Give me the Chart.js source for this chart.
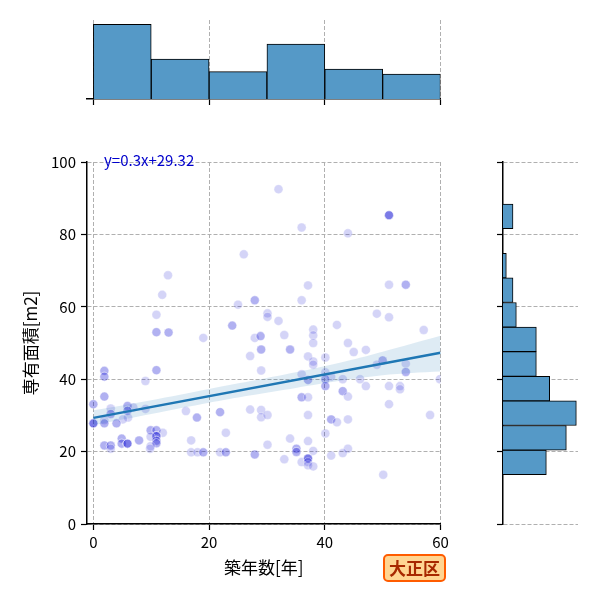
<!DOCTYPE html>
<html lang="ja">
<head>
  <meta charset="UTF-8">
  <title>大正区 築年数と専有面積</title>
  <script src="https://cdn.jsdelivr.net/npm/chart.js"></script>
  <style>
    body { margin: 0; background: #fff; }
    #wrap { position: relative; width: 600px; height: 600px; }
    canvas { position: absolute; left: 0; top: 0; }
    #eq { position: absolute; left: 104px; top: 151px; font: 15px 'Noto Sans CJK JP', sans-serif; line-height: 18px; color: #0000cc; }
    #ward { position: absolute; left: 383px; top: 554px; width: 59px; height: 24px; border: 2px solid #ff5c00; border-radius: 5px;
            background: #ffd592; color: #a82800; font: bold 17px 'Noto Sans CJK JP', sans-serif; line-height: 24px; text-align: center; }
  </style>
</head>
<body>
<div id="wrap">
  <canvas id="main" width="600" height="600"></canvas>
  <canvas id="top" width="600" height="600"></canvas>
  <canvas id="right" width="600" height="600"></canvas>
  <div id="eq">y=0.3x+29.32</div>
  <div id="ward">大正区</div>
</div>
<script>
// 散布図の点 (築年数, 専有面積, 重なり数)
const ptX = [26.0,12.9,11.9,10.9,10.9,13.0,19.0,25.0,27.9,24.0,27.9,28.9,32.0,36.0,51.1,44.0,37.1,51.1,54.0,36.0,
  30.1,30.1,32.0,33.0,38.0,38.0,38.0,42.1,49.0,51.1,57.1,44.0,29.0,34.0,45.0,47.1,27.1,37.1,38.0,38.0,
  40.1,29.0,36.0,37.1,40.1,41.1,40.1,43.1,46.1,50.0,49.0,54.0,54.0,59.9,40.1,47.1,51.1,53.0,53.0,43.1,
  44.0,36.0,37.1,51.1,29.0,29.0,30.1,37.1,41.1,42.1,44.0,58.2,40.1,34.0,37.1,30.1,44.0,35.1,35.1,38.0,
  27.9,43.1,41.1,33.0,36.0,37.1,37.1,37.1,38.0,50.1,1.9,1.9,10.9,9.0,1.9,0.0,3.0,5.9,6.9,5.9,
  9.0,3.0,6.0,5.1,1.9,1.9,0.0,4.0,16.0,17.9,21.9,27.1,9.9,10.9,12.0,10.9,10.9,10.9,9.9,9.9,
  4.9,4.9,5.9,7.9,1.9,3.0,3.0,9.8,16.9,16.9,18.0,19.0,21.9,22.9,22.9];
const ptY = [74.5,68.7,63.3,57.8,53.0,52.9,51.4,60.6,61.8,54.8,51.4,51.9,92.5,81.9,85.3,80.3,65.9,66.1,66.1,61.8,
  58.2,57.2,56.1,52.2,53.7,52.1,50.0,55.0,58.1,57.1,53.6,50.0,48.2,48.2,47.5,48.1,46.4,46.3,44.9,44.0,
  46.0,42.4,41.4,39.8,41.9,40.7,40.0,40.0,40.0,45.2,44.0,44.3,42.0,40.0,38.1,38.1,38.1,38.1,37.2,36.7,
  35.2,35.0,35.0,33.1,31.5,29.5,30.1,30.1,28.9,28.1,28.9,30.1,25.0,23.6,22.9,21.9,20.8,20.8,19.9,20.2,
  19.2,19.6,18.9,17.9,17.1,18.1,17.1,16.2,15.9,13.6,42.3,40.7,42.5,39.5,35.2,33.1,31.9,32.6,32.2,31.3,
  31.8,30.4,29.4,28.9,28.7,27.8,27.8,27.8,31.2,29.4,30.9,31.6,25.9,25.9,25.2,24.3,23.0,22.3,24.1,21.5,
  23.6,22.2,22.2,23.1,21.7,21.7,20.8,20.8,23.1,19.8,19.8,19.8,19.8,19.8,25.2];
const ptN = [1,1,1,1,2,2,1,1,2,2,1,2,1,1,4,1,1,1,2,1,
  1,1,1,1,1,1,1,1,1,1,1,1,2,2,1,1,1,1,1,1,
  1,1,1,2,1,1,2,1,1,2,1,1,2,1,2,1,1,1,1,2,
  1,2,1,1,1,1,1,1,2,1,1,1,1,1,1,1,1,2,2,1,
  2,1,1,1,1,4,1,1,1,1,2,2,2,1,2,2,1,2,1,2,
  1,2,1,1,1,2,4,2,1,2,2,1,2,2,1,4,2,2,1,1,
  2,2,4,2,2,2,1,1,1,1,1,2,1,2,1];

// 回帰直線と信頼区間
const regX = [0, 60];
const regY = [29.32, 47.32];
const bandX  = [0, 10, 20, 27, 35, 44, 50, 55, 60];
const bandHi = [31.4, 34.2, 37.3, 39.4, 41.9, 45.1, 47.6, 49.8, 52.0];
const bandLo = [27.3, 30.4, 33.5, 35.5, 37.6, 39.9, 41.1, 41.7, 42.1];

// 目盛り
const xTicks = [0, 20, 40, 60];
const yTicks = [0, 20, 40, 60, 80, 100];

// 周辺ヒストグラム
const topEdges = [0, 10, 20, 30, 40, 50, 60];
const topCounts = [30, 16, 11, 22, 12, 10];
const rightEdges = [13.6, 20.4, 27.2, 34.0, 40.8, 47.6, 54.4, 61.2, 68.0, 74.8, 81.6, 88.4, 95.2];
const rightCounts = [13, 19, 22, 14, 10, 10, 4, 3, 1, 0, 3, 0];

Chart.defaults.font.family = "'Noto Sans CJK JP', 'DejaVu Sans', sans-serif";
Chart.defaults.color = '#000';
Chart.defaults.animation = false;
Chart.defaults.events = [];
Chart.defaults.plugins.legend.display = false;
Chart.defaults.plugins.tooltip.enabled = false;

const gridCol = '#b0b0b0';
const dash = [4, 2];
const barCol = '#5599c7';

const pts = [];
ptX.forEach((x, i) => { for (let k = 0; k < ptN[i]; k++) pts.push({ x: x, y: ptY[i] }); });

function setTicks(list) {
  return s => { s.ticks = list.map(v => ({ value: v })); };
}
const gridOpts = { offset: false, color: gridCol, tickColor: '#000', tickLength: 6, tickWidth: 1.2, tickBorderDash: [] };
const noLabels = { display: true, callback: () => '', padding: 0 };

new Chart(document.getElementById('main'), {
  type: 'scatter',
  data: {
    datasets: [
      { type: 'line', data: regX.map((x, i) => ({ x: x, y: regY[i] })), borderColor: '#1f77b4', borderWidth: 2.5, pointRadius: 0 },
      { type: 'line', data: bandX.map((x, i) => ({ x: x, y: bandHi[i] })), borderWidth: 0, pointRadius: 0,
        fill: '+1', backgroundColor: 'rgba(31,119,180,0.15)', tension: 0.3 },
      { type: 'line', data: bandX.map((x, i) => ({ x: x, y: bandLo[i] })), borderWidth: 0, pointRadius: 0, tension: 0.3 },
      { data: pts, pointRadius: 4.5, borderWidth: 1, borderColor: 'rgba(255,255,255,0.35)', backgroundColor: 'rgba(0,0,205,0.17)' }
    ]
  },
  options: {
    responsive: false,
    layout: { padding: { left: 0, top: 162, right: 159.5, bottom: 0 } },
    scales: {
      x: {
        type: 'linear', min: -1.1, max: 60,
        afterBuildTicks: setTicks(xTicks),
        afterFit: s => { s.height = 76; },
        ticks: { font: { size: 15 }, padding: 3 },
        grid: gridOpts,
        border: { color: '#000', width: 1.5, dash: dash },
        title: { display: true, text: '築年数[年]', font: { size: 17 }, padding: { top: 0, bottom: 22 } }
      },
      y: {
        type: 'linear', min: 0, max: 100,
        afterBuildTicks: setTicks(yTicks),
        afterFit: s => { s.width = 87; },
        ticks: { font: { size: 15 }, padding: 5 },
        grid: gridOpts,
        border: { color: '#000', width: 1.5, dash: dash },
        title: { display: true, text: '専有面積[m2]', font: { size: 17 }, padding: { top: 20, bottom: 0 } }
      }
    }
  }
});

new Chart(document.getElementById('top'), {
  type: 'bar',
  data: {
    datasets: [{
      data: topCounts.map((c, i) => ({ x: (topEdges[i] + topEdges[i + 1]) / 2, y: c })),
      backgroundColor: barCol, borderColor: '#000', borderWidth: 1,
      barPercentage: 1, categoryPercentage: 1
    }]
  },
  options: {
    responsive: false,
    layout: { padding: { left: 87, top: 20, right: 159.5, bottom: 0 } },
    scales: {
      x: {
        type: 'linear', min: -1.1, max: 60, offset: false,
        afterBuildTicks: setTicks(xTicks),
        afterFit: s => { s.height = 501; },
        ticks: noLabels,
        grid: gridOpts,
        border: { color: '#000', width: 1.5, dash: dash }
      },
      y: { display: false, min: 0, max: 31.7 }
    }
  }
});

new Chart(document.getElementById('right'), {
  type: 'bar',
  data: {
    datasets: [{
      data: rightCounts.map((c, i) => ({ y: (rightEdges[i] + rightEdges[i + 1]) / 2, x: c })),
      backgroundColor: barCol, borderColor: '#000', borderWidth: 1,
      barPercentage: 1, categoryPercentage: 1
    }]
  },
  options: {
    responsive: false,
    indexAxis: 'y',
    layout: { padding: { left: 497, top: 162, right: 22, bottom: 76 } },
    scales: {
      y: {
        type: 'linear', min: 0, max: 100, position: 'left', offset: false,
        afterBuildTicks: setTicks(yTicks),
        afterFit: s => { s.width = 6; },
        ticks: noLabels,
        grid: gridOpts,
        border: { color: '#000', width: 1.5, dash: dash }
      },
      x: { display: false, min: 0, max: 22.5 }
    }
  }
});
</script>
</body>
</html>
